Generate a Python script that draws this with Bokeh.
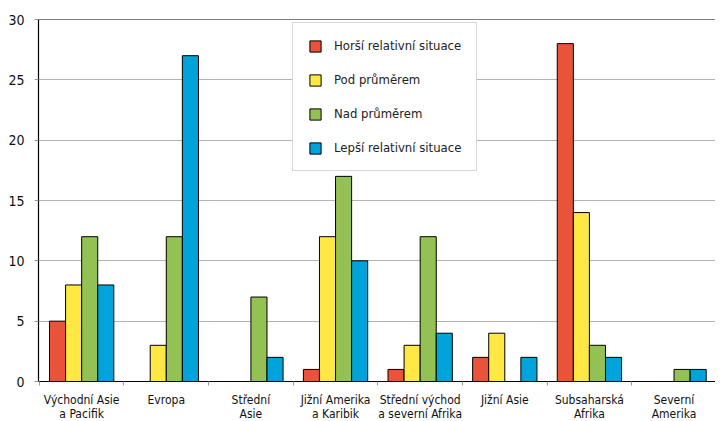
from bokeh.plotting import figure
from bokeh.models import FixedTicker, Span, Legend, ColumnDataSource
from bokeh.embed import file_html
from bokeh.resources import INLINE

categories = ["Východní Asie\na Pacifik", "Evropa", "Střední\nAsie", "Jižní Amerika\na Karibik",
              "Střední východ\na severní Afrika", "Jižní Asie", "Subsaharská\nAfrika", "Severní\nAmerika"]
series_names = ["Horší relativní situace", "Pod průměrem", "Nad průměrem", "Lepší relativní situace"]
horsi = [5, 0, 0, 1, 1, 2, 28, 0]
pod = [8, 3, 0, 12, 3, 4, 14, 0]
nad = [12, 12, 7, 17, 12, 0, 3, 1]
lepsi = [8, 27, 2, 10, 4, 2, 2, 1]
y_ticks = [0, 5, 10, 15, 20, 25, 30]

colors = ["#E9533A", "#FFE843", "#94C154", "#00A4DB"]
FONT = "DejaVu Sans Condensed"

p = figure(width=715, height=421, output_backend="svg", toolbar_location=None,
           x_range=(-0.01, 7.99), y_range=(0, 30),
           frame_width=677, frame_height=362,
           min_border_left=38, min_border_right=0, min_border_top=19, min_border_bottom=40)
p.background_fill_color = "white"
p.outline_line_color = None

bw = 0.19
offsets = [-1.5, -0.5, 0.5, 1.5]
renderers = []
for vals, name, col, off in zip([horsi, pod, nad, lepsi], series_names, colors, offsets):
    xs = [i + 0.5 + off * bw for i, v in enumerate(vals) if v > 0]
    ys = [v for v in vals if v > 0]
    src = ColumnDataSource(dict(x=xs, top=ys))
    r = p.vbar(x="x", top="top", width=bw, bottom=0, source=src,
               fill_color=col, line_color="black", line_width=1)
    renderers.append((name, [r]))

legend = Legend(items=renderers, location=(254, 210),
                glyph_width=14, glyph_height=14, label_height=14,
                spacing=19, padding=15, margin=0, label_standoff=12,
                label_text_font=FONT, label_text_font_size="13px", label_text_color="#222222",
                border_line_color="#b0b0b0", border_line_width=1,
                background_fill_color="white", background_fill_alpha=1)
p.add_layout(legend, "center")

p.add_layout(Span(location=30, dimension="width", line_color="black", line_width=1.2))

# x axis
centers = [i + 0.5 for i in range(len(categories))]
p.xaxis.ticker = FixedTicker(ticks=centers, minor_ticks=list(range(len(categories) + 1)))
p.xaxis.major_label_overrides = {c: lab for c, lab in zip(centers, categories)}
p.xaxis.major_tick_line_color = None
p.xaxis.major_tick_out = 0
p.xaxis.major_tick_in = 0
p.xaxis.minor_tick_line_color = "#999999"
p.xaxis.minor_tick_out = 4
p.xaxis.minor_tick_in = 0
p.xaxis.axis_line_color = "black"
p.xaxis.axis_line_width = 1.2
p.xaxis.major_label_text_font = FONT
p.xaxis.major_label_text_font_size = "12px"
p.xaxis.major_label_text_color = "#111111"
p.xaxis.major_label_standoff = 7
p.xaxis.major_label_text_line_height = 1.0
p.xgrid.grid_line_color = None

# y axis
p.yaxis.ticker = FixedTicker(ticks=y_ticks)
p.yaxis.axis_line_color = "black"
p.yaxis.axis_line_width = 1.2
p.yaxis.major_tick_line_color = "#999999"
p.yaxis.major_tick_out = 4
p.yaxis.major_tick_in = 0
p.yaxis.minor_tick_line_color = None
p.yaxis.major_label_text_font = FONT
p.yaxis.major_label_text_font_size = "14px"
p.yaxis.major_label_text_color = "#111111"
p.yaxis.major_label_standoff = 10
p.ygrid.grid_line_color = "#b3b3b3"
p.ygrid.grid_line_width = 1

open("out.html", "w").write(file_html(p, INLINE))
